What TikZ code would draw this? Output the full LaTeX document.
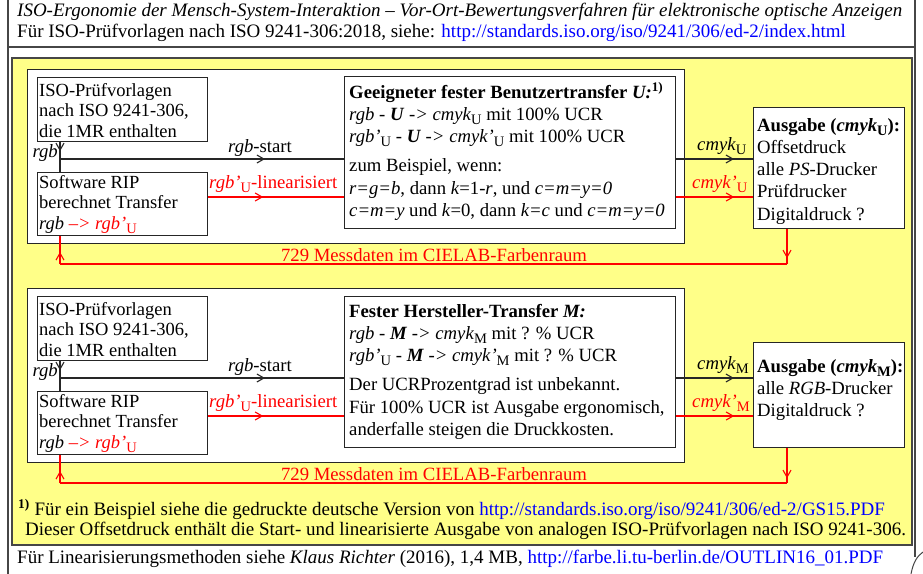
\documentclass[tikz,border=0pt]{standalone}
\usepackage{fontspec}
\setmainfont{Liberation Serif}
\usetikzlibrary{arrows.meta,decorations.markings}
\definecolor{bgyellow}{RGB}{255,255,136}
\definecolor{linkblue}{RGB}{0,0,255}
\definecolor{framegray}{RGB}{70,70,70}
\newcommand\dn[1]{\raisebox{-4pt}{\fontsize{14.5}{14.5}\selectfont #1}}
\newcommand\mlbox[2]{\parbox[t]{#1}{\raggedright #2}}
\pgfdeclarelayer{bg}
\pgfdeclarelayer{mid}
\pgfsetlayers{bg,mid,main}
\tikzset{
  boxn/.style={draw=black!85, fill=white, line width=1.2pt, anchor=north west, inner sep=0pt},
  panel/.style={draw=black!85, fill=white, line width=1.2pt, anchor=north west, inner sep=0pt},
  txt/.style={anchor=base west, inner sep=0pt},
  lbl/.style={anchor=base west, inner sep=0pt},
  wide/.style={anchor=base west, inner sep=0pt, font=\fontsize{19}{22}\selectfont},
  conn/.style={line width=1.1pt, draw=black!85},
  rconn/.style={line width=1.1pt, draw=red},
  tipat/.style={postaction=decorate, decoration={markings, mark=at position #1 with {\arrow{Straight Barb[length=7pt,width=8pt]}}}},
  tipsat/.style 2 args={postaction=decorate, decoration={markings, mark=at position #1 with {\arrow{Straight Barb[length=7pt,width=8pt]}}, mark=at position #2 with {\arrow{Straight Barb[length=7pt,width=8pt]}}}},
  fsmall/.style={font=\fontsize{18.5}{20.3}\selectfont},
  fbig/.style={font=\fontsize{18.7}{22.3}\selectfont},
}
\begin{document}
\begin{tikzpicture}[x=1pt,y=-1pt,font=\fontsize{18.7}{22}\selectfont]
\useasboundingbox (0,0) rectangle (923,573);
% ---------- frame and background ----------
\begin{pgfonlayer}{bg}
\draw[framegray, line width=1.2pt] (8,-1) -- (8,574);
\draw[framegray, line width=1.2pt] (915,-1) -- (915,557);
\draw[framegray, line width=1.2pt] (8,47) -- (915,47);
\draw[framegray, line width=1pt] (911,574) .. controls (913,563) and (917,556) .. (923,552);
\draw[framegray, line width=1.2pt, fill=bgyellow] (12,58) rectangle (912,545);
\node[panel, minimum width=657pt, minimum height=174pt] (p1) at (27,69) {};
\node[panel, minimum width=657pt, minimum height=174pt] (p2) at (27,288) {};
\end{pgfonlayer}

% ---------- header ----------
\node[wide] (title) at (17,16) {\textit{ISO-Ergonomie der Mensch-System-Interaktion -- Vor-Ort-Bewertungsverfahren für elektronische optische Anzeigen}};
\node[wide] (sub) at (17,37) {Für ISO-Prüfvorlagen nach ISO 9241-306:2018, siehe: \textcolor{linkblue}{http://standards.iso.org/iso/9241/306/ed-2/index.html}};

% ---------- panel 1 ----------
\node[boxn, minimum width=170pt, minimum height=64pt] (iso1) at (37,77) {};
\node[txt, fsmall] (iso1t) at (39,96.5) {\mlbox{300pt}{ISO-Prüfvorlagen\\nach ISO 9241-306,\\die 1MR enthalten}};
\node[boxn, minimum width=170pt, minimum height=63pt] (rip1) at (37,172) {};
\node[txt, fsmall] (rip1t) at (39,188.5) {\mlbox{300pt}{Software RIP\\berechnet Transfer\\\textit{rgb} \textcolor{red}{\textit{--> rgb'}\dn{U}}}};
\node[boxn, minimum width=331pt, minimum height=152pt] (txt1) at (344,76) {};
\node[txt, fbig] (txt1t) at (349,98) {\mlbox{400pt}{\textbf{Geeigneter fester Benutzertransfer \textit{U:}}\textsuperscript{\textbf{1)}}\\
\textit{rgb} - \textbf{\textit{U}} \textit{->} \textit{cmyk}\dn{U} mit 100\% UCR\\
\textit{rgb'}\dn{U} - \textbf{\textit{U}} \textit{->} \textit{cmyk'}\dn{U} mit 100\% UCR\\[7pt]
zum Beispiel, wenn:\\
\textit{r=g=b}, dann \textit{k}=1-\textit{r}, und \textit{c=m=y=0}\\
\textit{c=m=y} und \textit{k}=0, dann \textit{k=c} und \textit{c=m=y=0}}};
\node[boxn, minimum width=151pt, minimum height=121pt] (aus1) at (753,107) {};
\node[txt, fbig] (aus1t) at (757,131) {\mlbox{300pt}{\textbf{Ausgabe (\textit{cmyk}\dn{U}):}\\
Offsetdruck\\alle \textit{PS}-Drucker\\Prüfdrucker\\Digitaldruck ?}};

\begin{pgfonlayer}{mid}
\coordinate (j1) at (60,159);
\coordinate (r1) at (207,197);
\coordinate (f1a) at (787,264);
\coordinate (f1b) at (60,264);
\draw[conn, tipat=9pt] (iso1.south -| j1) -- (rip1.north -| j1);
\draw[conn, tipsat={205pt}{674pt}] (j1) -- (j1 -| aus1.west);
\draw[rconn, tipsat={55pt}{526pt}] (rip1.east |- r1) -- (r1 -| aus1.west);
\draw[rconn, tipat=29pt] (aus1.south -| f1a) -- (f1a);
\draw[rconn] (f1a) -- (f1b);
\draw[rconn, tipat=12pt] (f1b) -- (rip1.south -| f1b);
\end{pgfonlayer}
\node[lbl] (lrgb1) at (228,152) {\textit{rgb}-start};
\node[lbl, text=red] (llin1) at (209,188) {\textit{rgb'}\dn{U}-linearisiert};
\node[anchor=base east, inner sep=0pt] (lv1) at (58,157) {\textit{rgb}};
\node[lbl] (lcm1) at (697,150) {\textit{cmyk}\dn{U}};
\node[lbl, text=red] (lcmp1) at (692,188) {\textit{cmyk'}\dn{U}};
\node[anchor=base, inner sep=0pt, text=red] (lfb1) at (434,261) {729 Messdaten im CIELAB-Farbenraum};

% ---------- panel 2 ----------
\node[boxn, minimum width=170pt, minimum height=64pt] (iso2) at (37,296) {};
\node[txt, fsmall] (iso2t) at (39,315.5) {\mlbox{300pt}{ISO-Prüfvorlagen\\nach ISO 9241-306,\\die 1MR enthalten}};
\node[boxn, minimum width=170pt, minimum height=63pt] (rip2) at (37,391) {};
\node[txt, fsmall] (rip2t) at (39,407.5) {\mlbox{300pt}{Software RIP\\berechnet Transfer\\\textit{rgb} \textcolor{red}{\textit{--> rgb'}\dn{U}}}};
\node[boxn, minimum width=331pt, minimum height=151pt] (txt2) at (344,296) {};
\node[txt, fbig] (txt2t) at (349,317) {\mlbox{400pt}{\textbf{Fester Hersteller-Transfer \textit{M:}}\\
\textit{rgb} - \textbf{\textit{M}} \textit{->} \textit{cmyk}\dn{M} mit ? \% UCR\\
\textit{rgb'}\dn{U} - \textbf{\textit{M}} \textit{->} \textit{cmyk'}\dn{M} mit ? \% UCR\\[7pt]
Der UCRProzentgrad ist unbekannt.\\
Für 100\% UCR ist Ausgabe ergonomisch,\\
anderfalle steigen die Druckkosten.}};
\node[boxn, minimum width=151pt, minimum height=105pt] (aus2) at (753,342) {};
\node[txt, fbig] (aus2t) at (757,372) {\mlbox{300pt}{\textbf{Ausgabe (\textit{cmyk}\dn{M}):}\\
alle \textit{RGB}-Drucker\\Digitaldruck ?}};

\begin{pgfonlayer}{mid}
\coordinate (j2) at (60,378);
\coordinate (r2) at (207,416);
\coordinate (f2a) at (787,483);
\coordinate (f2b) at (60,483);
\draw[conn, tipat=9pt] (iso2.south -| j2) -- (rip2.north -| j2);
\draw[conn, tipsat={205pt}{674pt}] (j2) -- (j2 -| aus2.west);
\draw[rconn, tipsat={55pt}{526pt}] (rip2.east |- r2) -- (r2 -| aus2.west);
\draw[rconn, tipat=30pt] (aus2.south -| f2a) -- (f2a);
\draw[rconn] (f2a) -- (f2b);
\draw[rconn, tipat=12pt] (f2b) -- (rip2.south -| f2b);
\end{pgfonlayer}
\node[lbl] (lrgb2) at (228,371) {\textit{rgb}-start};
\node[lbl, text=red] (llin2) at (209,407) {\textit{rgb'}\dn{U}-linearisiert};
\node[anchor=base east, inner sep=0pt] (lv2) at (58,376) {\textit{rgb}};
\node[lbl] (lcm2) at (697,369) {\textit{cmyk}\dn{M}};
\node[lbl, text=red] (lcmp2) at (692,407) {\textit{cmyk'}\dn{M}};
\node[anchor=base, inner sep=0pt, text=red] (lfb2) at (434,480) {729 Messdaten im CIELAB-Farbenraum};

% ---------- footnotes ----------
\node[wide] (fn1) at (18,515) {\textsuperscript{\textbf{1)}} Für ein Beispiel siehe die gedruckte deutsche Version von \textcolor{linkblue}{http://standards.iso.org/iso/9241/306/ed-2/GS15.PDF}};
\node[wide] (fn2) at (25,535) {Dieser Offsetdruck enthält die Start- und linearisierte Ausgabe von analogen ISO-Prüfvorlagen nach ISO 9241-306.};
\node[wide] (foot) at (17,563) {Für Linearisierungsmethoden siehe \textit{Klaus Richter} (2016), 1,4 MB, \textcolor{linkblue}{http://farbe.li.tu-berlin.de/OUTLIN16\_01.PDF}};
\end{tikzpicture}
\end{document}
